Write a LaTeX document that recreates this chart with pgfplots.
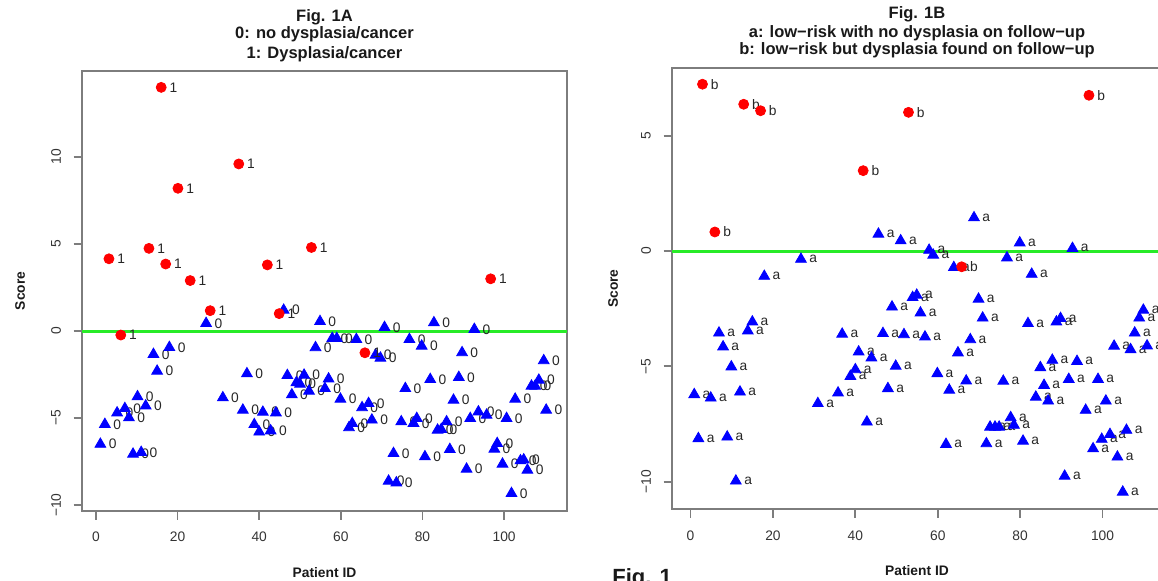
\documentclass[border=0pt]{standalone}
\usepackage{fontspec}
\setmainfont{Liberation Sans}
\usepackage{pgfplots}
\pgfplotsset{compat=1.18}
\definecolor{rred}{RGB}{255,0,0}
\definecolor{rblue}{RGB}{0,0,255}
\definecolor{rgreen}{RGB}{40,235,40}
\definecolor{boxgray}{RGB}{125,125,125}

\pgfplotsset{
  rpanel/.style={
    scale only axis, clip=false,
    axis line style={boxgray, line width=0.9pt},
    tick align=outside, xtick pos=left, ytick pos=left,
    major tick length=4.25pt,
    tick style={boxgray, line width=0.9pt},
    tick label style={font=\fontsize{6.9}{8}\selectfont, text=black!80},
    xticklabel style={anchor=center, yshift=-8.75pt},
    yticklabel style={anchor=center, xshift=-8.75pt, rotate=90},
    xtick={0,20,40,60,80,100}, xticklabels={0,20,40,60,80,100},
  },
  pts/.style={only marks, mark size=#1,
    nodes near coords align={horizontal},
    every node near coord/.append style={font=\fontsize{6.9}{8}\selectfont,
      text=black!85, anchor=west, inner sep=0pt, xshift=4pt}},
  grp0/.style={pts=3.1pt, mark=triangle*, color=rblue},
  grp1/.style={pts=2.5pt, mark=*, color=rred},
}

\begin{document}
\begin{tikzpicture}
\path[use as bounding box] (0,0) rectangle (579pt,290pt);

% Fig. 1A
\begin{axis}[rpanel, at={(41pt,34.5pt)}, anchor=south west,
  width=242.5pt, height=220pt,
  xmin=-3.4, xmax=115.4, ymin=-10.34, ymax=14.94,
  ytick={-10,-5,0,5,10}, yticklabels={−10,−5,0,5,10}]
\addplot[rgreen, line width=1.5pt, forget plot] coordinates {(-3.4,0) (115.4,0)};
\addplot[grp0, nodes near coords={0}] coordinates {
(1.1,-6.5) (2.2,-5.36) (5.2,-4.7) (7.1,-4.45) (8.1,-4.98) (9.1,-7.07)
(10.2,-3.77) (11.1,-6.97) (12.2,-4.3) (14.1,-1.34) (15.0,-2.3) (18.0,-0.94)
(27.0,0.44) (31.1,-3.83) (36.0,-4.54) (37.0,-2.45) (38.8,-5.37) (40.0,-5.8)
(40.9,-4.66) (42.8,-5.73) (44.1,-4.7) (46.0,1.2) (46.9,-2.55) (48.0,-3.66)
(49.1,-2.97) (50.0,-3.05) (51.0,-2.53) (52.2,-3.45) (53.8,-0.95) (54.9,0.55)
(56.1,-3.3) (57.0,-2.75) (57.9,-0.42) (59.0,-0.42) (59.9,-3.91) (62.0,-5.55)
(62.8,-5.31) (63.8,-0.48) (65.2,-4.4) (66.8,-4.16) (67.6,-5.11) (68.5,-1.38)
(69.7,-1.55) (70.7,0.21) (71.7,-8.62) (72.9,-7.03) (73.6,-8.72) (74.8,-5.21)
(75.8,-3.3) (76.8,-0.48) (77.8,-5.3) (78.6,-5.02) (79.8,-0.86) (80.6,-7.22)
(81.9,-2.78) (82.8,0.48) (83.7,-5.69) (84.6,-5.65) (85.9,-5.21) (86.7,-6.8)
(87.6,-3.97) (88.9,-2.66) (89.7,-1.24) (90.8,-7.93) (91.7,-5.02) (92.7,0.1)
(93.7,-4.64) (95.7,-4.83) (97.6,-6.78) (98.3,-6.46) (99.6,-7.64) (100.6,-5.02)
(101.8,-9.33) (102.7,-3.91) (104.0,-7.45) (104.8,-7.4) (105.7,-7.99) (106.7,-3.16)
(107.6,-3.16) (108.5,-2.82) (109.7,-1.7) (110.3,-4.54)};
\addplot[grp1, nodes near coords={1}] coordinates {
(3.2,4.15) (6.1,-0.23) (13.0,4.75) (16.0,14.0) (17.1,3.85) (20.1,8.2) (23.1,2.9)
(28.0,1.17) (35.0,9.6) (42.0,3.8) (44.9,1.0) (52.8,4.8) (65.9,-1.25) (96.7,3.0)};
\end{axis}

% Fig. 1B
\begin{axis}[rpanel, at={(336pt,35.35pt)}, anchor=south west,
  width=245.15pt, height=220.5pt,
  xmin=-4.5, xmax=114.5, ymin=-11.2, ymax=7.93,
  ytick={-10,-5,0,5}, yticklabels={−10,−5,0,5}]
\addplot[rgreen, line width=1.5pt, forget plot] coordinates {(-4.5,0) (114.5,0)};
\addplot[grp0, nodes near coords={a}] coordinates {
(0.9,-6.22) (1.9,-8.13) (4.9,-6.37) (6.9,-3.55) (7.9,-4.15) (8.9,-8.06)
(9.9,-5.02) (11.0,-9.97) (12.0,-6.11) (13.9,-3.46) (15.0,-3.07) (17.9,-1.09)
(26.8,-0.35) (30.9,-6.61) (35.8,-6.15) (36.8,-3.6) (38.8,-5.43) (40.0,-5.14)
(40.8,-4.37) (42.8,-7.41) (43.9,-4.63) (45.6,0.74) (46.7,-3.57) (47.9,-5.96)
(48.9,-2.42) (49.8,-4.99) (51.0,0.45) (51.8,-3.62) (53.9,-2.01) (54.9,-1.91)
(55.8,-2.68) (56.9,-3.72) (57.9,0.04) (58.9,-0.17) (59.9,-5.31) (62.0,-8.38)
(62.8,-6.03) (63.9,-0.71) (64.9,-4.41) (66.9,-5.63) (67.9,-3.84) (68.8,1.45)
(69.9,-2.08) (70.9,-2.9) (71.8,-8.35) (72.7,-7.63) (73.9,-7.63) (74.9,-7.63)
(75.9,-5.64) (76.8,-0.29) (77.7,-7.22) (78.5,-7.55) (79.9,0.36) (80.7,-8.24)
(81.9,-3.14) (82.8,-1.0) (83.8,-6.33) (84.9,-5.05) (85.8,-5.82) (86.8,-6.5)
(87.8,-4.73) (88.8,-3.07) (89.8,-2.92) (90.8,-9.76) (91.8,-5.56) (92.7,0.12)
(93.8,-4.78) (95.9,-6.9) (97.7,-8.57) (98.9,-5.56) (99.8,-8.16) (100.8,-6.5)
(101.8,-7.95) (102.8,-4.12) (103.6,-8.93) (104.9,-10.45) (105.8,-7.77) (106.8,-4.27)
(107.8,-3.55) (108.9,-2.9) (109.9,-2.56) (110.8,-4.11)};
\addplot[grp1, nodes near coords={b}] coordinates {
(2.9,7.24) (5.9,0.83) (12.9,6.37) (17.0,6.09) (41.9,3.49) (52.9,6.02)
(65.8,-0.68) (96.7,6.76)};
\end{axis}

% titles and axis labels
\begin{scope}[every node/.style={inner sep=0pt, text=black!90}]
\node[anchor=base, font=\fontsize{8.25}{9}\bfseries] at (162.25pt,279.5pt) {Fig. 1A};
\node[anchor=base, font=\fontsize{8.25}{9}\bfseries] at (162.25pt,270.5pt) {0: no dysplasia/cancer};
\node[anchor=base, font=\fontsize{8.25}{9}\bfseries] at (162.25pt,261pt) {1: Dysplasia/cancer};
\node[anchor=base, font=\fontsize{8.25}{9}\bfseries] at (458.5pt,280.5pt) {Fig. 1B};
\node[anchor=base, font=\fontsize{8.25}{9}\bfseries] at (458.5pt,271.5pt) {a: low−risk with no dysplasia on follow−up};
\node[anchor=base, font=\fontsize{8.25}{9}\bfseries] at (458.5pt,262.5pt) {b: low−risk but dysplasia found on follow−up};
\node[anchor=base, font=\fontsize{6.9}{8}\bfseries] at (162.25pt,1.5pt) {Patient ID};
\node[anchor=base, font=\fontsize{6.9}{8}\bfseries] at (458.5pt,2.5pt) {Patient ID};
\node[rotate=90, font=\fontsize{6.9}{8}\bfseries] at (10pt,144.5pt) {Score};
\node[rotate=90, font=\fontsize{6.9}{8}\bfseries] at (306.5pt,145.75pt) {Score};
\node[anchor=north west, font=\fontsize{11}{12}\bfseries] at (306pt,6pt) {Fig. 1};
\end{scope}
\end{tikzpicture}
\end{document}
